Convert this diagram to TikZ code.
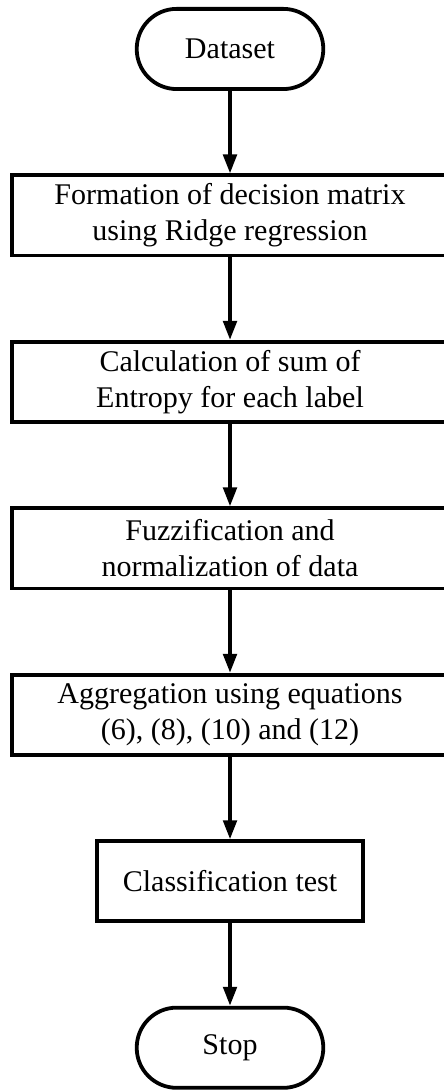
\documentclass[tikz,border=0pt]{standalone}
\usepackage{fontspec}
\setmainfont{Liberation Serif}
\usetikzlibrary{positioning,arrows.meta}

\tikzset{
    termnode/.style={draw, line width=1.3pt, rounded corners=13.7pt, inner ysep=0.5pt,
        minimum width=64pt, minimum height=27.5pt, font=\fontsize{10.3}{12.4}\selectfont},
    procnode/.style={draw, line width=1.3pt, align=center, inner ysep=0.5pt,
        minimum width=149.5pt, minimum height=27.5pt, font=\fontsize{10.3}{12.4}\selectfont},
    arr/.style={line width=1.3pt, -{Triangle[width=4.6pt,length=6.5pt]}}
}

\begin{document}
\begin{tikzpicture}[node distance=28.3pt]
        \useasboundingbox (-78.9pt,16.8pt) rectangle (73.4pt,-357.1pt);

        \node[termnode] (data) at (0,0) {Dataset};
        \node[procnode, below=of data] (form) {Formation of decision matrix\\using Ridge regression};
        \node[procnode, below=of form] (entr) {Calculation of sum of\\Entropy for each label};
        \node[procnode, below=of entr] (fuzz) {Fuzzification and\\normalization of data};
        \node[procnode, below=of fuzz] (aggr) {Aggregation using equations\\(6), (8), (10) and (12)};
        \node[procnode, minimum width=91.2pt, below=of aggr] (test) {Classification test};
        \node[termnode, below=of test] (stop) {Stop};

        \foreach \a/\b in {data/form, form/entr, entr/fuzz, fuzz/aggr, aggr/test, test/stop} {
            \draw[arr] (\a) -- (\b);
        }
    \end{tikzpicture}
\end{document}
